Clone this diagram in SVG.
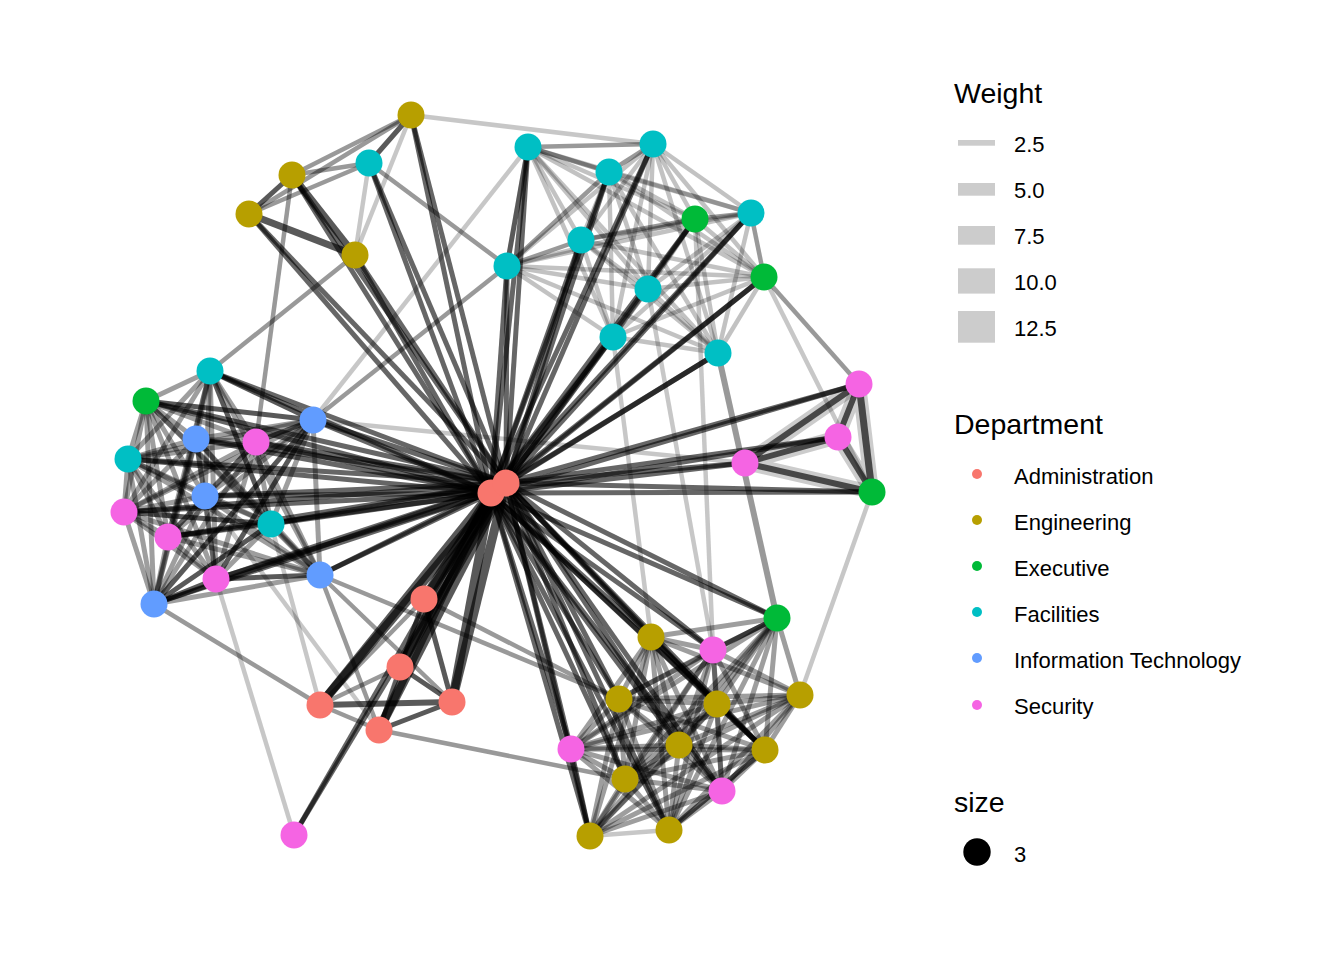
<svg xmlns="http://www.w3.org/2000/svg" width="1344" height="960" viewBox="0 0 1344 960">
<style>
text{font-family:"Liberation Sans",Arial,sans-serif;fill:#000}
.tt{font-size:28.5px}
.lb{font-size:22px}
path{fill:none;stroke:#000;stroke-linecap:butt}
.h{stroke-opacity:.6;stroke-width:5}
.hb{stroke-opacity:.65;stroke-width:9}
.c{stroke-opacity:.38;stroke-width:5}
.t{stroke-opacity:.24;stroke-width:4.5}
.d{stroke-opacity:.65;stroke-width:5}
.m{stroke-opacity:.4;stroke-width:4.5}
.l{stroke-opacity:.22;stroke-width:4.5}
.w{stroke-opacity:.2;stroke-width:14}
.n circle{stroke:none}
.ad{fill:#F8766D}.en{fill:#B79F00}.ex{fill:#00BA38}.fa{fill:#00BFC4}.it{fill:#619CFF}.se{fill:#F564E3}
</style>
<rect width="1344" height="960" fill="#fff"/>
<g id="connectors">
<path class="l" d="M411 115L653 144"/>
<path class="m" d="M355 255L210 371"/>
<path class="m" d="M292 175L256 442"/>
<path class="l" d="M528 147L313 420"/>
<path class="m" d="M507 266L313 420"/>
<path class="m" d="M369 163L507 266"/>
<path class="m" d="M718 353L777 618" style="stroke-width:6"/>
<path class="m" d="M764 277L859 384"/>
<path class="l" d="M764 277L872 492"/>
<path class="l" d="M695 219L713 650"/>
<path class="l" d="M613 337L651 637"/>
<path class="l" d="M648 289L713 650"/>
<path class="l" d="M872 492L800 695"/>
<path class="m" d="M154 604L320 705"/>
<path class="l" d="M216 579L294 835"/>
<path class="l" d="M205 496L379 730"/>
<path class="l" d="M271 524L320 705"/>
<path class="m" d="M320 575L379 730"/>
<path class="m" d="M320 575L452 702"/>
<path class="m" d="M320 575L619 699"/>
<path class="m" d="M424 599L619 699"/>
<path class="m" d="M379 730L625 779"/>
<path class="l" d="M313 420L745 463"/>
<path class="m" d="M411 115L292 175"/>
<path class="m" d="M411 115L249 214"/>
<path class="d" d="M411 115L369 163"/>
<path class="l" d="M411 115L355 255"/>
<path class="d" d="M292 175L249 214"/>
<path class="m" d="M292 175L369 163"/>
<path class="d" d="M292 175L355 255" style="stroke-width:7"/>
<path class="m" d="M249 214L369 163"/>
<path class="d" d="M249 214L355 255" style="stroke-width:7"/>
<path class="l" d="M369 163L355 255"/>
<path class="w" d="M859 384L838 437L872 492Z"/>
<path class="w" d="M745 463L859 384M745 463L838 437M745 463L872 492"/>
<path class="d" d="M859 384L838 437" style="stroke-width:6"/>
<path class="d" d="M859 384L745 463" style="stroke-width:6"/>
<path class="d" d="M859 384L872 492" style="stroke-width:7"/>
<path class="d" d="M838 437L745 463" style="stroke-width:6"/>
<path class="d" d="M838 437L872 492" style="stroke-width:6"/>
<path class="d" d="M745 463L872 492" style="stroke-width:6"/>
<path class="m" d="M424 599L400 667"/>
<path class="m" d="M424 599L320 705"/>
<path class="d" d="M424 599L452 702"/>
<path class="m" d="M424 599L379 730"/>
<path class="m" d="M400 667L320 705"/>
<path class="d" d="M400 667L452 702"/>
<path class="m" d="M400 667L379 730"/>
<path class="d" d="M320 705L452 702" style="stroke-width:6"/>
<path class="m" d="M320 705L379 730"/>
<path class="d" d="M452 702L379 730"/>
<path class="h" d="M491 493L411 115"/><path class="h" d="M506 483L411 115"/>
<path class="h" d="M491 493L292 175"/><path class="h" d="M506 483L292 175"/>
<path class="h" d="M491 493L249 214"/><path class="h" d="M506 483L249 214"/>
<path class="h" d="M491 493L355 255"/><path class="h" d="M506 483L355 255"/>
<path class="h" d="M491 493L369 163"/><path class="h" d="M506 483L369 163"/>
<path class="h" d="M491 493L528 147"/><path class="h" d="M506 483L528 147"/>
<path class="h" d="M491 493L507 266"/><path class="h" d="M506 483L507 266"/>
<path class="h" d="M491 493L581 240"/><path class="h" d="M506 483L581 240"/>
<path class="h" d="M491 493L609 172"/><path class="h" d="M506 483L609 172"/>
<path class="h" d="M491 493L653 144"/><path class="h" d="M506 483L653 144"/>
<path class="h" d="M491 493L695 219"/><path class="h" d="M506 483L695 219"/>
<path class="h" d="M491 493L751 213"/><path class="h" d="M506 483L751 213"/>
<path class="h" d="M491 493L764 277"/><path class="h" d="M506 483L764 277"/>
<path class="l" d="M491 493L648 289"/><path class="l" d="M506 483L648 289"/>
<path class="h" d="M491 493L613 337"/><path class="h" d="M506 483L613 337"/>
<path class="h" d="M491 493L718 353"/><path class="h" d="M506 483L718 353"/>
<path class="h" d="M491 493L859 384"/><path class="h" d="M506 483L859 384"/>
<path class="h" d="M491 493L838 437"/><path class="h" d="M506 483L838 437"/>
<path class="h" d="M491 493L745 463"/><path class="h" d="M506 483L745 463"/>
<path class="h" d="M491 493L872 492"/><path class="h" d="M506 483L872 492"/>
<path class="h" d="M491 493L777 618"/><path class="h" d="M506 483L777 618"/>
<path class="h" d="M491 493L651 637"/><path class="h" d="M506 483L651 637"/>
<path class="h" d="M491 493L713 650"/><path class="h" d="M506 483L713 650"/>
<path class="h" d="M491 493L717 704"/><path class="h" d="M506 483L717 704"/>
<path class="h" d="M491 493L619 699"/><path class="h" d="M506 483L619 699"/>
<path class="h" d="M491 493L679 745"/><path class="h" d="M506 483L679 745"/>
<path class="h" d="M491 493L765 750"/><path class="h" d="M506 483L765 750"/>
<path class="h" d="M491 493L571 749"/><path class="h" d="M506 483L571 749"/>
<path class="h" d="M491 493L625 779"/><path class="h" d="M506 483L625 779"/>
<path class="h" d="M491 493L590 836"/><path class="h" d="M506 483L590 836"/>
<path class="h" d="M491 493L669 830"/><path class="h" d="M506 483L669 830"/>
<path class="h" d="M491 493L722 791"/><path class="h" d="M506 483L722 791"/>
<path class="h" d="M491 493L210 371"/><path class="h" d="M506 483L210 371"/>
<path class="h" d="M491 493L146 401"/><path class="h" d="M506 483L146 401"/>
<path class="h" d="M491 493L313 420"/><path class="h" d="M506 483L313 420"/>
<path class="h" d="M491 493L196 439"/><path class="h" d="M506 483L196 439"/>
<path class="h" d="M491 493L256 442"/><path class="h" d="M506 483L256 442"/>
<path class="h" d="M491 493L128 459"/><path class="h" d="M506 483L128 459"/>
<path class="h" d="M491 493L205 496"/><path class="h" d="M506 483L205 496"/>
<path class="h" d="M491 493L124 512"/><path class="h" d="M506 483L124 512"/>
<path class="h" d="M491 493L271 524"/><path class="h" d="M506 483L271 524"/>
<path class="h" d="M491 493L168 537"/><path class="h" d="M506 483L168 537"/>
<path class="h" d="M491 493L216 579"/><path class="h" d="M506 483L216 579"/>
<path class="h" d="M491 493L320 575"/><path class="h" d="M506 483L320 575"/>
<path class="h" d="M491 493L154 604"/><path class="h" d="M506 483L154 604"/>
<path class="h" d="M491 493L294 835"/><path class="h" d="M506 483L294 835"/>
<path class="hb" d="M491 493L424 599"/><path class="hb" d="M506 483L424 599"/>
<path class="hb" d="M491 493L400 667"/><path class="hb" d="M506 483L400 667"/>
<path class="hb" d="M491 493L320 705"/><path class="hb" d="M506 483L320 705"/>
<path class="hb" d="M491 493L452 702"/><path class="hb" d="M506 483L452 702"/>
<path class="hb" d="M491 493L379 730"/><path class="hb" d="M506 483L379 730"/>
<path class="c" d="M146 401L210 371"/><path class="c" d="M146 401L196 439"/><path class="c" d="M146 401L256 442"/><path class="d" d="M146 401L313 420"/><path class="c" d="M146 401L128 459"/><path class="c" d="M146 401L205 496"/><path class="c" d="M146 401L124 512"/><path class="c" d="M146 401L271 524"/><path class="c" d="M146 401L168 537"/><path class="c" d="M146 401L216 579"/><path class="c" d="M146 401L320 575"/><path class="c" d="M146 401L154 604"/>
<path class="c" d="M210 371L196 439"/><path class="c" d="M210 371L256 442"/><path class="d" d="M210 371L313 420"/><path class="c" d="M210 371L128 459"/><path class="c" d="M210 371L205 496"/><path class="c" d="M210 371L124 512"/><path class="d" d="M210 371L271 524"/><path class="c" d="M210 371L168 537"/><path class="c" d="M210 371L216 579"/><path class="c" d="M210 371L320 575"/><path class="c" d="M210 371L154 604"/>
<path class="c" d="M196 439L256 442"/><path class="c" d="M196 439L313 420"/><path class="c" d="M196 439L128 459"/><path class="c" d="M196 439L205 496"/><path class="c" d="M196 439L124 512"/><path class="c" d="M196 439L271 524"/><path class="c" d="M196 439L168 537"/><path class="c" d="M196 439L216 579"/><path class="c" d="M196 439L320 575"/><path class="c" d="M196 439L154 604"/>
<path class="d" d="M256 442L313 420"/><path class="c" d="M256 442L128 459"/><path class="c" d="M256 442L205 496"/><path class="c" d="M256 442L124 512"/><path class="c" d="M256 442L271 524"/><path class="c" d="M256 442L168 537"/><path class="c" d="M256 442L216 579"/><path class="c" d="M256 442L320 575"/><path class="c" d="M256 442L154 604"/>
<path class="c" d="M313 420L128 459"/><path class="c" d="M313 420L205 496"/><path class="c" d="M313 420L124 512"/><path class="c" d="M313 420L271 524"/><path class="c" d="M313 420L168 537"/><path class="d" d="M313 420L216 579"/><path class="c" d="M313 420L320 575"/><path class="d" d="M313 420L154 604"/>
<path class="c" d="M128 459L205 496"/><path class="c" d="M128 459L124 512"/><path class="c" d="M128 459L271 524"/><path class="c" d="M128 459L168 537"/><path class="c" d="M128 459L216 579"/><path class="c" d="M128 459L320 575"/><path class="c" d="M128 459L154 604"/>
<path class="c" d="M205 496L124 512"/><path class="c" d="M205 496L271 524"/><path class="c" d="M205 496L168 537"/><path class="c" d="M205 496L216 579"/><path class="c" d="M205 496L320 575"/><path class="c" d="M205 496L154 604"/>
<path class="d" d="M124 512L271 524"/><path class="c" d="M124 512L168 537"/><path class="c" d="M124 512L216 579"/><path class="c" d="M124 512L320 575"/><path class="c" d="M124 512L154 604"/>
<path class="c" d="M271 524L168 537"/><path class="c" d="M271 524L216 579"/><path class="c" d="M271 524L320 575"/><path class="d" d="M271 524L154 604"/>
<path class="c" d="M168 537L216 579"/><path class="c" d="M168 537L320 575"/><path class="c" d="M168 537L154 604"/>
<path class="d" d="M216 579L320 575"/><path class="d" d="M216 579L154 604"/>
<path class="c" d="M320 575L154 604"/>
<path class="c" d="M651 637L713 650"/><path class="c" d="M651 637L619 699"/><path class="c" d="M651 637L717 704"/><path class="c" d="M651 637L800 695"/><path class="c" d="M651 637L571 749"/><path class="c" d="M651 637L679 745"/><path class="d" d="M651 637L765 750"/><path class="c" d="M651 637L625 779"/><path class="c" d="M651 637L722 791"/><path class="c" d="M651 637L590 836"/><path class="c" d="M651 637L669 830"/><path class="c" d="M651 637L777 618"/>
<path class="c" d="M713 650L619 699"/><path class="c" d="M713 650L717 704"/><path class="c" d="M713 650L800 695"/><path class="c" d="M713 650L571 749"/><path class="c" d="M713 650L679 745"/><path class="c" d="M713 650L765 750"/><path class="c" d="M713 650L625 779"/><path class="c" d="M713 650L722 791"/><path class="c" d="M713 650L590 836"/><path class="c" d="M713 650L669 830"/><path class="d" d="M713 650L777 618"/>
<path class="c" d="M619 699L717 704"/><path class="c" d="M619 699L800 695"/><path class="c" d="M619 699L571 749"/><path class="c" d="M619 699L679 745"/><path class="c" d="M619 699L765 750"/><path class="c" d="M619 699L625 779"/><path class="c" d="M619 699L722 791"/><path class="c" d="M619 699L590 836"/><path class="c" d="M619 699L669 830"/><path class="c" d="M619 699L777 618"/>
<path class="c" d="M717 704L800 695"/><path class="c" d="M717 704L571 749"/><path class="c" d="M717 704L679 745"/><path class="d" d="M717 704L765 750"/><path class="c" d="M717 704L625 779"/><path class="c" d="M717 704L722 791"/><path class="c" d="M717 704L590 836"/><path class="c" d="M717 704L669 830"/><path class="c" d="M717 704L777 618"/>
<path class="c" d="M800 695L571 749"/><path class="c" d="M800 695L679 745"/><path class="c" d="M800 695L765 750"/><path class="c" d="M800 695L625 779"/><path class="c" d="M800 695L722 791"/><path class="c" d="M800 695L590 836"/><path class="c" d="M800 695L669 830"/><path class="c" d="M800 695L777 618"/>
<path class="c" d="M571 749L679 745"/><path class="c" d="M571 749L765 750"/><path class="c" d="M571 749L625 779"/><path class="c" d="M571 749L722 791"/><path class="d" d="M571 749L590 836"/><path class="c" d="M571 749L669 830"/><path class="c" d="M571 749L777 618"/>
<path class="c" d="M679 745L765 750"/><path class="c" d="M679 745L625 779"/><path class="c" d="M679 745L722 791"/><path class="c" d="M679 745L590 836"/><path class="c" d="M679 745L669 830"/><path class="c" d="M679 745L777 618"/>
<path class="c" d="M765 750L625 779"/><path class="c" d="M765 750L722 791"/><path class="c" d="M765 750L590 836"/><path class="d" d="M765 750L669 830"/><path class="c" d="M765 750L777 618"/>
<path class="c" d="M625 779L722 791"/><path class="c" d="M625 779L590 836"/><path class="c" d="M625 779L669 830"/><path class="c" d="M625 779L777 618"/>
<path class="c" d="M722 791L590 836"/><path class="c" d="M722 791L669 830"/><path class="c" d="M722 791L777 618"/>
<path class="l" d="M590 836L669 830"/><path class="c" d="M590 836L777 618"/>
<path class="c" d="M669 830L777 618"/>
<path class="m" d="M528 147L653 144"/><path class="m" d="M528 147L609 172"/><path class="t" d="M528 147L695 219"/><path class="t" d="M528 147L751 213"/><path class="t" d="M528 147L581 240"/><path class="d" d="M528 147L507 266"/><path class="t" d="M528 147L764 277"/><path class="t" d="M528 147L648 289"/><path class="t" d="M528 147L613 337"/><path class="t" d="M528 147L718 353"/>
<path class="m" d="M653 144L609 172"/><path class="t" d="M653 144L695 219"/><path class="t" d="M653 144L751 213"/><path class="t" d="M653 144L581 240"/><path class="t" d="M653 144L507 266"/><path class="t" d="M653 144L764 277"/><path class="t" d="M653 144L648 289"/><path class="t" d="M653 144L613 337"/><path class="t" d="M653 144L718 353"/>
<path class="t" d="M609 172L695 219"/><path class="t" d="M609 172L751 213"/><path class="t" d="M609 172L581 240"/><path class="m" d="M609 172L507 266"/><path class="t" d="M609 172L764 277"/><path class="t" d="M609 172L648 289"/><path class="t" d="M609 172L613 337"/><path class="t" d="M609 172L718 353"/>
<path class="m" d="M695 219L751 213"/><path class="m" d="M695 219L581 240"/><path class="t" d="M695 219L507 266"/><path class="t" d="M695 219L764 277"/><path class="t" d="M695 219L648 289"/><path class="t" d="M695 219L613 337"/><path class="t" d="M695 219L718 353"/>
<path class="t" d="M751 213L581 240"/><path class="t" d="M751 213L507 266"/><path class="m" d="M751 213L764 277"/><path class="t" d="M751 213L648 289"/><path class="t" d="M751 213L613 337"/><path class="t" d="M751 213L718 353"/>
<path class="m" d="M581 240L507 266"/><path class="t" d="M581 240L764 277"/><path class="t" d="M581 240L648 289"/><path class="t" d="M581 240L613 337"/><path class="t" d="M581 240L718 353"/>
<path class="t" d="M507 266L764 277"/><path class="t" d="M507 266L648 289"/><path class="t" d="M507 266L613 337"/><path class="t" d="M507 266L718 353"/>
<path class="t" d="M764 277L648 289"/><path class="t" d="M764 277L613 337"/><path class="t" d="M764 277L718 353"/>
<path class="t" d="M648 289L613 337"/><path class="t" d="M648 289L718 353"/>
<path class="t" d="M613 337L718 353"/>
</g>
<g id="nodes" class="n">
<g id="n-admin-1"><circle class="ad" cx="491" cy="493" r="13.5"/></g>
<g id="n-admin-2"><circle class="ad" cx="506" cy="483" r="13.5"/></g>
<g id="n-admin-3"><circle class="ad" cx="424" cy="599" r="13.5"/></g>
<g id="n-admin-4"><circle class="ad" cx="400" cy="667" r="13.5"/></g>
<g id="n-admin-5"><circle class="ad" cx="320" cy="705" r="13.5"/></g>
<g id="n-admin-6"><circle class="ad" cx="452" cy="702" r="13.5"/></g>
<g id="n-admin-7"><circle class="ad" cx="379" cy="730" r="13.5"/></g>
<g id="n-eng-1"><circle class="en" cx="411" cy="115" r="13.5"/></g>
<g id="n-eng-2"><circle class="en" cx="292" cy="175" r="13.5"/></g>
<g id="n-eng-3"><circle class="en" cx="249" cy="214" r="13.5"/></g>
<g id="n-eng-4"><circle class="en" cx="355" cy="255" r="13.5"/></g>
<g id="n-eng-5"><circle class="en" cx="651" cy="637" r="13.5"/></g>
<g id="n-eng-6"><circle class="en" cx="619" cy="699" r="13.5"/></g>
<g id="n-eng-7"><circle class="en" cx="717" cy="704" r="13.5"/></g>
<g id="n-eng-8"><circle class="en" cx="800" cy="695" r="13.5"/></g>
<g id="n-eng-9"><circle class="en" cx="679" cy="745" r="13.5"/></g>
<g id="n-eng-10"><circle class="en" cx="765" cy="750" r="13.5"/></g>
<g id="n-eng-11"><circle class="en" cx="625" cy="779" r="13.5"/></g>
<g id="n-eng-12"><circle class="en" cx="590" cy="836" r="13.5"/></g>
<g id="n-eng-13"><circle class="en" cx="669" cy="830" r="13.5"/></g>
<g id="n-exec-1"><circle class="ex" cx="146" cy="401" r="13.5"/></g>
<g id="n-exec-2"><circle class="ex" cx="695" cy="219" r="13.5"/></g>
<g id="n-exec-3"><circle class="ex" cx="764" cy="277" r="13.5"/></g>
<g id="n-exec-4"><circle class="ex" cx="872" cy="492" r="13.5"/></g>
<g id="n-exec-5"><circle class="ex" cx="777" cy="618" r="13.5"/></g>
<g id="n-fac-1"><circle class="fa" cx="528" cy="147" r="13.5"/></g>
<g id="n-fac-2"><circle class="fa" cx="653" cy="144" r="13.5"/></g>
<g id="n-fac-3"><circle class="fa" cx="609" cy="172" r="13.5"/></g>
<g id="n-fac-4"><circle class="fa" cx="369" cy="163" r="13.5"/></g>
<g id="n-fac-5"><circle class="fa" cx="751" cy="213" r="13.5"/></g>
<g id="n-fac-6"><circle class="fa" cx="581" cy="240" r="13.5"/></g>
<g id="n-fac-7"><circle class="fa" cx="507" cy="266" r="13.5"/></g>
<g id="n-fac-8"><circle class="fa" cx="648" cy="289" r="13.5"/></g>
<g id="n-fac-9"><circle class="fa" cx="613" cy="337" r="13.5"/></g>
<g id="n-fac-10"><circle class="fa" cx="718" cy="353" r="13.5"/></g>
<g id="n-fac-11"><circle class="fa" cx="210" cy="371" r="13.5"/></g>
<g id="n-fac-12"><circle class="fa" cx="128" cy="459" r="13.5"/></g>
<g id="n-fac-13"><circle class="fa" cx="271" cy="524" r="13.5"/></g>
<g id="n-it-1"><circle class="it" cx="313" cy="420" r="13.5"/></g>
<g id="n-it-2"><circle class="it" cx="196" cy="439" r="13.5"/></g>
<g id="n-it-3"><circle class="it" cx="205" cy="496" r="13.5"/></g>
<g id="n-it-4"><circle class="it" cx="320" cy="575" r="13.5"/></g>
<g id="n-it-5"><circle class="it" cx="154" cy="604" r="13.5"/></g>
<g id="n-sec-1"><circle class="se" cx="859" cy="384" r="13.5"/></g>
<g id="n-sec-2"><circle class="se" cx="838" cy="437" r="13.5"/></g>
<g id="n-sec-3"><circle class="se" cx="745" cy="463" r="13.5"/></g>
<g id="n-sec-4"><circle class="se" cx="256" cy="442" r="13.5"/></g>
<g id="n-sec-5"><circle class="se" cx="124" cy="512" r="13.5"/></g>
<g id="n-sec-6"><circle class="se" cx="168" cy="537" r="13.5"/></g>
<g id="n-sec-7"><circle class="se" cx="216" cy="579" r="13.5"/></g>
<g id="n-sec-8"><circle class="se" cx="713" cy="650" r="13.5"/></g>
<g id="n-sec-9"><circle class="se" cx="571" cy="749" r="13.5"/></g>
<g id="n-sec-10"><circle class="se" cx="722" cy="791" r="13.5"/></g>
<g id="n-sec-11"><circle class="se" cx="294" cy="835" r="13.5"/></g>
</g>
<g id="legend-weight">
<text class="tt" x="954" y="103">Weight</text>
<rect x="958" y="140" width="37" height="5.7" fill="#CCCCCC"/>
<rect x="958" y="183" width="37" height="12.7" fill="#CCCCCC"/>
<rect x="958" y="226" width="37" height="18.7" fill="#CCCCCC"/>
<rect x="958" y="268.3" width="37" height="25.3" fill="#CCCCCC"/>
<rect x="958" y="311" width="37" height="31.7" fill="#CCCCCC"/>
<text class="lb" x="1014" y="152">2.5</text>
<text class="lb" x="1014" y="198">5.0</text>
<text class="lb" x="1014" y="244">7.5</text>
<text class="lb" x="1014" y="290">10.0</text>
<text class="lb" x="1014" y="336">12.5</text>
</g>
<g id="legend-department">
<text class="tt" x="954" y="434">Department</text>
<circle cx="977" cy="474" r="5" fill="#F8766D"/>
<circle cx="977" cy="520" r="5" fill="#B79F00"/>
<circle cx="977" cy="566" r="5" fill="#00BA38"/>
<circle cx="977" cy="612" r="5" fill="#00BFC4"/>
<circle cx="977" cy="658" r="5" fill="#619CFF"/>
<circle cx="977" cy="705" r="5" fill="#F564E3"/>
<text class="lb" x="1014" y="484">Administration</text>
<text class="lb" x="1014" y="530">Engineering</text>
<text class="lb" x="1014" y="576">Executive</text>
<text class="lb" x="1014" y="622">Facilities</text>
<text class="lb" x="1014" y="668">Information Technology</text>
<text class="lb" x="1014" y="714">Security</text>
</g>
<g id="legend-size">
<text class="tt" x="954" y="812">size</text>
<circle cx="977" cy="852" r="13.7" fill="#000"/>
<text class="lb" x="1014" y="862">3</text>
</g>
</svg>
